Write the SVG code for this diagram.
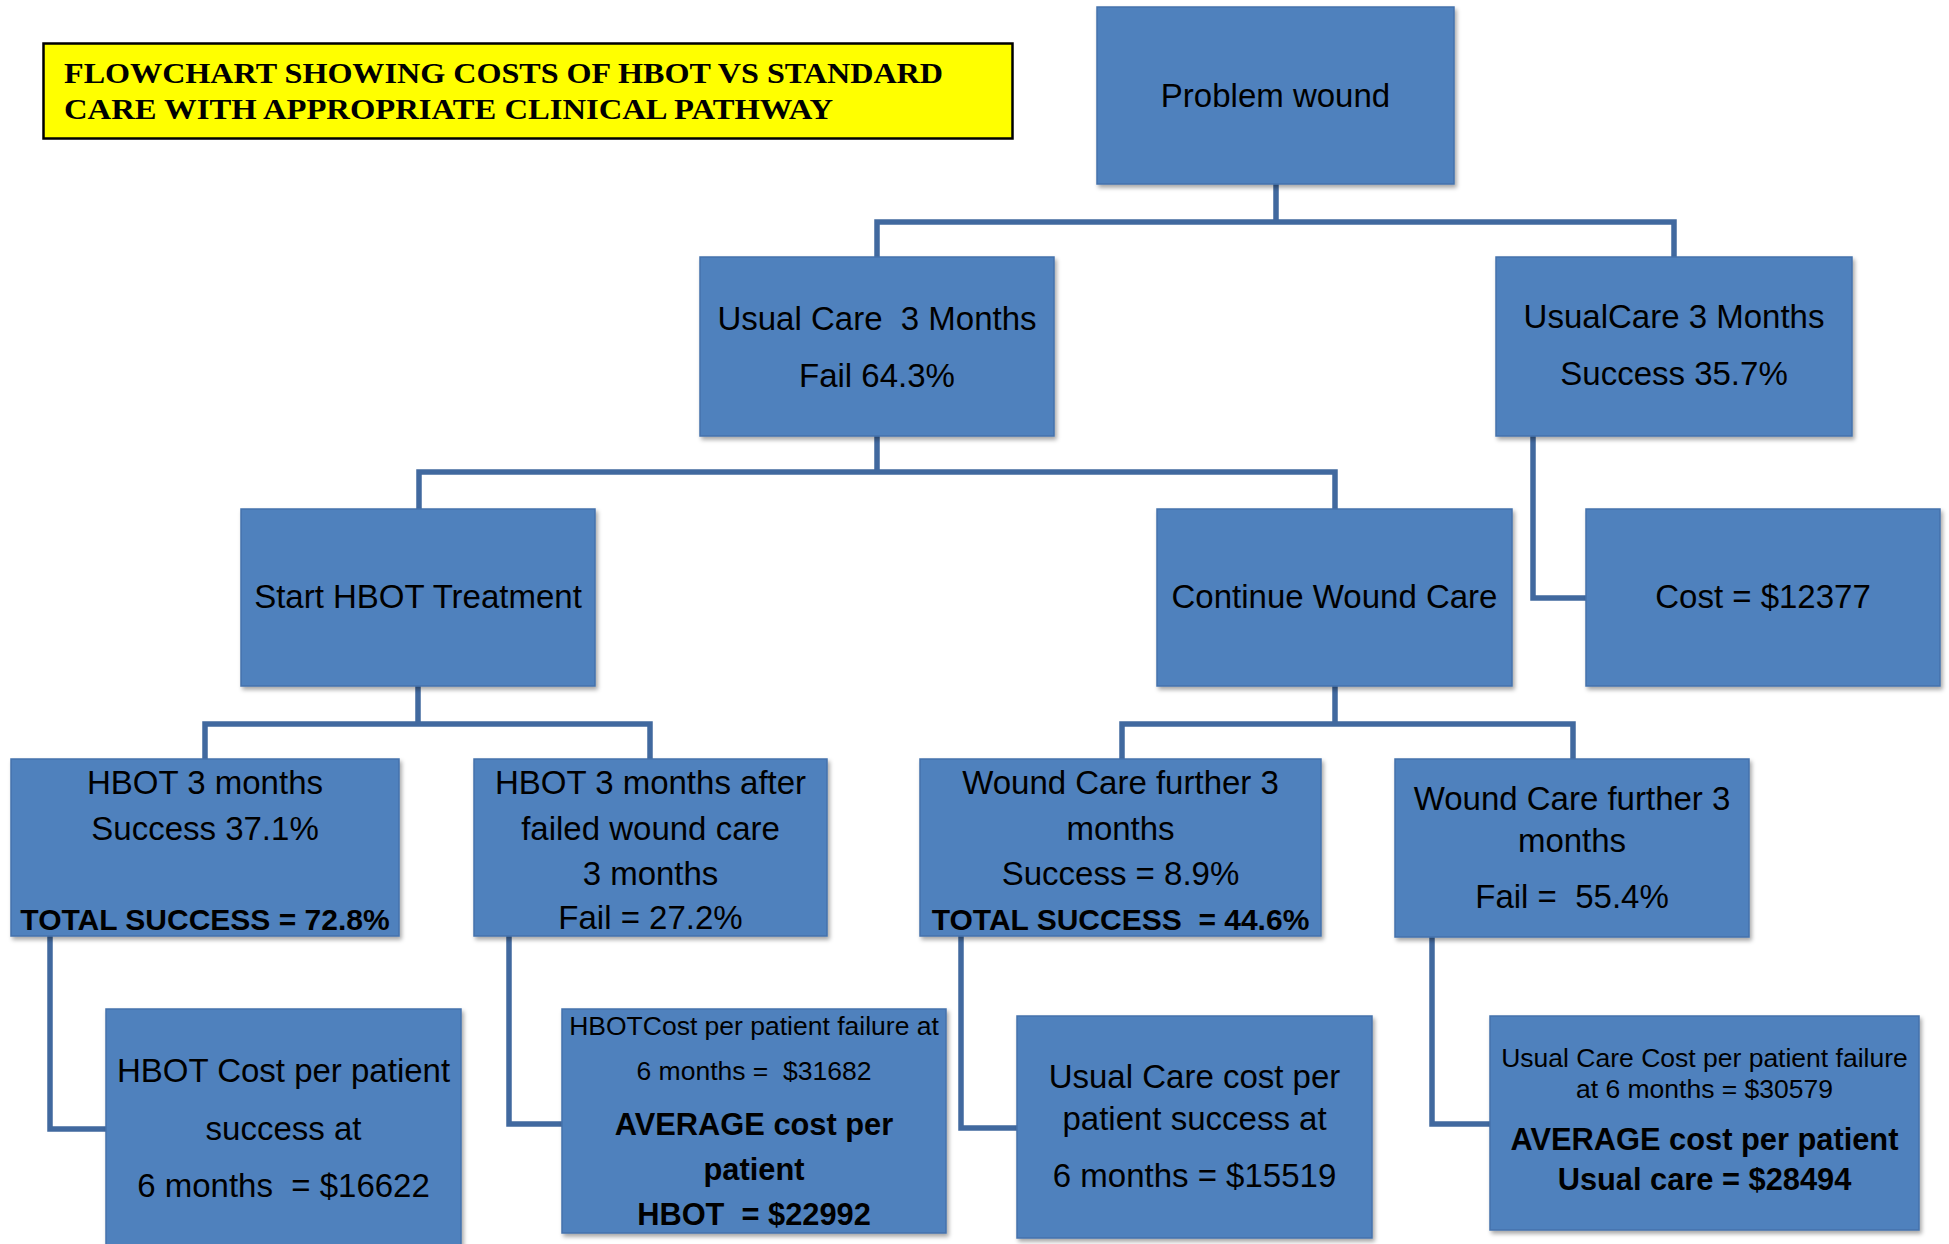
<svg xmlns="http://www.w3.org/2000/svg" width="1949" height="1244" viewBox="0 0 1949 1244">
<defs>
<filter id="sh" x="-5%" y="-5%" width="112%" height="115%">
<feDropShadow dx="2" dy="3" stdDeviation="2" flood-color="#000" flood-opacity="0.35"/>
</filter>
<style>
.box{fill:#4F81BD;stroke:#4472AC;stroke-width:1.5;filter:url(#sh)}
.t{font-family:"Liberation Sans",Arial,sans-serif;font-size:33px;fill:#000;text-anchor:middle}
.s{font-size:26.5px}
.b{font-weight:bold;font-size:30px}
.b2{font-weight:bold;font-size:30.8px}
.con{fill:none;stroke:#41699F;stroke-width:5.5;stroke-linejoin:miter}
.title{font-family:"Liberation Serif","Times New Roman",serif;font-weight:bold;font-size:30px;fill:#000}
</style>
</defs>
<rect width="1949" height="1244" fill="#fff"/>

<g id="connectors">
<path class="con" d="M1276 184 V222 M877 257 V222 H1674 V257"/>
<path class="con" d="M877 436 V472 M419 509 V472 H1335 V509"/>
<path class="con" d="M1533 436 V598 H1586"/>
<path class="con" d="M418 686 V724 M205 759 V724 H650 V759"/>
<path class="con" d="M1335 686 V724 M1122 759 V724 H1573 V759"/>
<path class="con" d="M50 936 V1129 H106"/>
<path class="con" d="M509 936 V1124 H562"/>
<path class="con" d="M961 936 V1128 H1017"/>
<path class="con" d="M1432 937 V1124 H1490"/>
</g>

<g id="title">
<rect x="43.5" y="43.5" width="969" height="95" fill="#FFFF00" stroke="#000" stroke-width="2.5"/>
<text class="title" x="64" y="83" textLength="879" lengthAdjust="spacingAndGlyphs">FLOWCHART SHOWING COSTS OF HBOT VS STANDARD</text>
<text class="title" x="64" y="119" textLength="769" lengthAdjust="spacingAndGlyphs">CARE WITH APPROPRIATE CLINICAL PATHWAY</text>
</g>

<g id="problem-wound">
<rect class="box" x="1097" y="7" width="357" height="177"/>
<text class="t" x="1275.5" y="107">Problem wound</text>
</g>

<g id="usual-care-fail">
<rect class="box" x="700" y="257" width="354" height="179"/>
<text class="t" x="877" y="330" xml:space="preserve">Usual Care  3 Months</text>
<text class="t" x="877" y="387">Fail 64.3%</text>
</g>

<g id="usual-care-success">
<rect class="box" x="1496" y="257" width="356" height="179"/>
<text class="t" x="1674" y="328">UsualCare 3 Months</text>
<text class="t" x="1674" y="385">Success 35.7%</text>
</g>

<g id="start-hbot">
<rect class="box" x="241" y="509" width="354" height="177"/>
<text class="t" x="418" y="608">Start HBOT Treatment</text>
</g>

<g id="continue-wound-care">
<rect class="box" x="1157" y="509" width="355" height="177"/>
<text class="t" x="1334.5" y="608">Continue Wound Care</text>
</g>

<g id="cost-usual-success">
<rect class="box" x="1586" y="509" width="354" height="177"/>
<text class="t" x="1763" y="608">Cost = $12377</text>
</g>

<g id="hbot-3-months">
<rect class="box" x="11" y="759" width="388" height="177"/>
<text class="t" x="205" y="794">HBOT 3 months</text>
<text class="t" x="205" y="840">Success 37.1%</text>
<text class="t b" x="205" y="930">TOTAL SUCCESS = 72.8%</text>
</g>

<g id="hbot-after-failed">
<rect class="box" x="474" y="759" width="353" height="177"/>
<text class="t" x="650.5" y="794">HBOT 3 months after</text>
<text class="t" x="650.5" y="840">failed wound care</text>
<text class="t" x="650.5" y="885">3 months</text>
<text class="t" x="650.5" y="929">Fail = 27.2%</text>
</g>

<g id="wound-care-success">
<rect class="box" x="920" y="759" width="401" height="177"/>
<text class="t" x="1120.5" y="794">Wound Care further 3</text>
<text class="t" x="1120.5" y="840">months</text>
<text class="t" x="1120.5" y="885">Success = 8.9%</text>
<text class="t b" x="1120.5" y="930" xml:space="preserve">TOTAL SUCCESS  = 44.6%</text>
</g>

<g id="wound-care-fail">
<rect class="box" x="1395" y="759" width="354" height="178"/>
<text class="t" x="1572" y="810">Wound Care further 3</text>
<text class="t" x="1572" y="852">months</text>
<text class="t" x="1572" y="908" xml:space="preserve">Fail =  55.4%</text>
</g>

<g id="hbot-success-cost">
<rect class="box" x="106" y="1009" width="355" height="250"/>
<text class="t" x="283.5" y="1082">HBOT Cost per patient</text>
<text class="t" x="283.5" y="1140">success at</text>
<text class="t" x="283.5" y="1197" xml:space="preserve">6 months  = $16622</text>
</g>

<g id="hbot-failure-cost">
<rect class="box" x="562" y="1009" width="384" height="224"/>
<text class="t s" x="754" y="1035">HBOTCost per patient failure at</text>
<text class="t s" x="754" y="1080" xml:space="preserve">6 months =  $31682</text>
<text class="t b2" x="754" y="1135">AVERAGE cost per</text>
<text class="t b2" x="754" y="1180">patient</text>
<text class="t b2" x="754" y="1225" xml:space="preserve">HBOT  = $22992</text>
</g>

<g id="usual-care-success-cost">
<rect class="box" x="1017" y="1016" width="355" height="222"/>
<text class="t" x="1194.5" y="1088">Usual Care cost per</text>
<text class="t" x="1194.5" y="1130">patient success at</text>
<text class="t" x="1194.5" y="1187">6 months = $15519</text>
</g>

<g id="usual-care-failure-cost">
<rect class="box" x="1490" y="1016" width="429" height="214"/>
<text class="t s" x="1704.5" y="1067">Usual Care Cost per patient failure</text>
<text class="t s" x="1704.5" y="1098">at 6 months = $30579</text>
<text class="t b2" x="1704.5" y="1150">AVERAGE cost per patient</text>
<text class="t b2" x="1704.5" y="1190">Usual care = $28494</text>
</g>
</svg>
